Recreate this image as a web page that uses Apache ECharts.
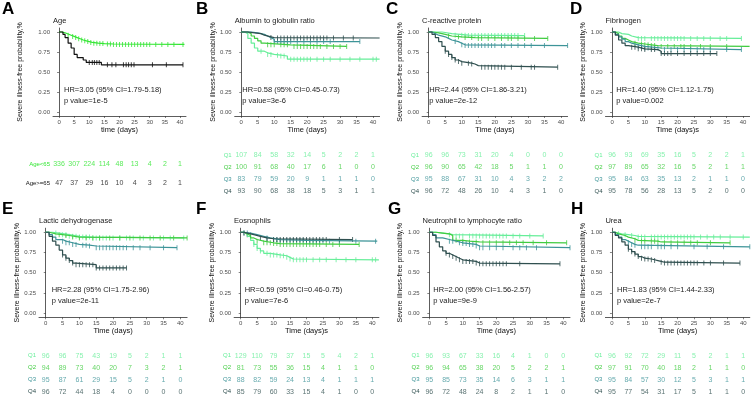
<!DOCTYPE html>
<html>
<head>
<meta charset="utf-8">
<script src="https://cdn.jsdelivr.net/npm/echarts@6/dist/echarts.min.js"></script>
<style>
  html, body { margin: 0; background: #fff; }
  #chart { width: 753px; height: 399px; }
</style>
</head>
<body>
<div id="chart"></div>
<script>
// shared ticks / groups
const timeTicks = [0, 5, 10, 15, 20, 25, 30, 35, 40];
const probTicks = [0, 0.25, 0.5, 0.75, 1];
const quartiles = ["Q1", "Q2", "Q3", "Q4"];
const quartileColors = ["#66ee99", "#40cc40", "#3d9498", "#2f4f4f"];
const ageGroups = ["Age<65", "Age>=65"];
const ageColors = ["#33e633", "#111111"];

// A - Age
const ageSteps = [
  [[0,1],[1,0.99],[2,0.975],[3,0.96],[4,0.945],[5,0.93],[6,0.915],[7,0.9],[8,0.89],[9,0.88],[10,0.87],[11,0.86],[13,0.855],[15,0.85],[18,0.845],[41.5,0.845]],
  [[0,1],[1.3,0.97],[2,0.93],[3,0.86],[4,0.8],[5,0.72],[6,0.68],[8,0.65],[9,0.62],[14,0.59],[41,0.59]]
];
const ageCensor = [
  [3,4.5,5.5,6.5,7.5,8.5,9.5,10.5,11.5,12.5,13.5,14.5,16,17,18,19,20,21,22,23,24,25,26,27,28,29,30,32,34,36,38,41],
  [10,11,11.7,12.5,13.3,16,17.5,18.8,21.3,22.2,23,23.9,24.8,30.9,35.5,41]
];
const ageRisk = [[336,307,224,114,48,13,4,2,1],[47,37,29,16,10,4,3,2,1]];

// B - Albumin to globulin ratio
const agrSteps = [
  [[0,1],[1,0.98],[2,0.92],[3,0.86],[4,0.8],[5,0.76],[7,0.74],[8,0.72],[10,0.71],[12,0.7],[14,0.66],[42,0.66]],
  [[0,1],[2,0.98],[3,0.95],[4,0.92],[5,0.89],[6,0.86],[7,0.84],[15,0.82],[32,0.82]],
  [[0,1],[3,0.99],[5,0.97],[7,0.95],[8,0.93],[9,0.91],[10,0.88],[36,0.88]],
  [[0,1],[2,0.99],[4,0.98],[6,0.96],[7,0.94],[9,0.93],[10,0.925],[42,0.925]]
];
const agrCensor = [
  [6,8,9,11,12,13,15,16,17,18,19,20,21,23,25,27,30,33,36,40,41],
  [8,9,10,12,13,14,16,17,18,19,20,21,22,23,24,26,28,30,32],
  [10,11,12,13,14,15,17,19,21,23,25,27,36],
  [9,11,12,13,14,15,16,17,18,19,20,21,22,23,24,25,26,28,31,34]
];
const agrRisk = [[107,84,58,32,14,5,2,2,1],[100,91,68,40,17,6,1,0,0],[83,79,59,20,9,1,1,1,0],[93,90,68,38,18,5,3,1,1]];

// C - C-reactive protein
const crpSteps = [
  [[0,1],[4,0.98],[7,0.96],[12,0.955],[29,0.955]],
  [[0,1],[1,0.99],[3,0.97],[5,0.95],[7,0.94],[10,0.93],[14,0.92],[36,0.92]],
  [[0,1],[1,0.98],[2,0.96],[3,0.94],[5,0.92],[6,0.9],[7,0.88],[9,0.86],[10,0.84],[11,0.83],[42,0.83]],
  [[0,1],[1,0.97],[2,0.93],[3,0.88],[4,0.82],[5,0.76],[6,0.72],[7,0.68],[8,0.65],[9,0.63],[10,0.61],[13,0.6],[14,0.58],[15,0.56],[39,0.56]]
];
const crpCensor = [
  [8,10,11,12,13,14,15,16,17,18,19,20,21,22,23,24,25,26,27,29],
  [6,9,11,13,15,16,18,20,22,24,25,27,29,32,36],
  [8,10,11,12,13,14,15,16,17,18,19,20,22,23,25,27,29,31,35,42],
  [5,6,7,8,9,10,12,13,16,17,18,19,20,21,22,23,25,28,31,32,39]
];
const crpRisk = [[96,96,73,31,20,4,0,0,0],[96,90,65,42,18,5,1,1,0],[95,88,67,31,10,4,3,2,2],[96,72,48,26,10,4,3,1,0]];

// D - Fibrinogen
const fibSteps = [
  [[0,1],[2,0.98],[3,0.97],[5,0.95],[6,0.93],[8,0.92],[39.5,0.92]],
  [[0,1],[1,0.98],[2,0.95],[3,0.92],[4,0.9],[5,0.88],[6,0.86],[8,0.85],[10,0.84],[12,0.83],[14,0.82],[42,0.82]],
  [[0,1],[1,0.97],[2,0.94],[3,0.91],[4,0.88],[5,0.86],[6,0.84],[8,0.82],[10,0.8],[15,0.78],[39.5,0.78]],
  [[0,1],[1,0.96],[2,0.9],[3,0.86],[4,0.83],[5,0.81],[8,0.79],[10,0.78],[14,0.76],[15,0.73],[32,0.73]]
];
const fibCensor = [
  [8,9,10,12,13,14,15,16,17,18,19,20,21,22,24,26,28,30,33,35,39.5],
  [7,9,10,11,12,13,15,17,19,21,22,24,27,30,35],
  [8,9,10,11,12,13,14,16,18,20,22,24,26,28,30,35,39.5],
  [6,7,8,9,10,12,13,15,16,17,18,20,22,24,26,28,30,32]
];
const fibRisk = [[96,93,69,35,16,5,2,2,1],[97,89,65,32,16,5,2,1,1],[95,84,63,35,13,2,1,1,0],[95,78,56,28,13,5,2,0,0]];

// E - Lactic dehydrogenase
const ldhSteps = [
  [[0,1],[2,0.99],[4,0.97],[7,0.95],[10,0.94],[14,0.93],[41,0.93]],
  [[0,1],[1,0.98],[3,0.97],[5,0.96],[7,0.94],[10,0.93],[42,0.93]],
  [[0,1],[1,0.97],[2,0.94],[3,0.91],[5,0.89],[6,0.87],[8,0.85],[10,0.84],[13,0.83],[15,0.81],[39,0.81]],
  [[0,1],[1,0.95],[2,0.89],[3,0.84],[4,0.78],[5,0.72],[6,0.68],[7,0.65],[8,0.62],[9,0.6],[15,0.56],[24,0.56]]
];
const ldhCensor = [
  [3,5,6,7,8,9,10,11,12,13,14,15,16,17,18,20,22,24,26,29,32,35,37,41],
  [4,6,8,10,12,14,16,19,22,25,28,31,34,38,42],
  [5,6,7,8,9,11,12,13,15,16,17,18,19,20,21,22,23,24,26,28,31,35,39],
  [5,6,7,8,9,10,11,12,13,14,15,16,17,18,19,20,21,22,23,24]
];
const ldhRisk = [[96,96,75,43,19,5,2,1,1],[94,89,73,40,20,7,3,2,1],[95,87,61,29,15,5,2,1,0],[96,72,44,18,4,0,0,0,0]];

// F - Eosinophils
const eosSteps = [
  [[0,1],[1,0.98],[2,0.95],[3,0.9],[4,0.85],[5,0.8],[6,0.77],[7,0.74],[9,0.72],[12,0.71],[14,0.69],[15,0.67],[16,0.66],[42,0.66]],
  [[0,1],[1,0.98],[2,0.96],[3,0.93],[4,0.91],[5,0.89],[7,0.87],[10,0.86],[12,0.85],[36,0.85]],
  [[0,1],[1,0.99],[3,0.97],[5,0.95],[7,0.93],[9,0.91],[12,0.9],[20,0.89],[41.5,0.89]],
  [[0,1],[1,0.99],[2,0.97],[4,0.95],[6,0.93],[8,0.92],[10,0.91],[34,0.91]]
];
const eosCensor = [
  [4,5,6,8,9,10,11,12,13,14,15,16,17,18,19,20,22,24,26,29,32,35,40,41],
  [5,7,8,9,10,11,12,13,14,15,16,17,18,19,20,21,22,23,24,26,28,30,36],
  [1,2,3,8,10,11,12,13,14,15,16,17,18,19,20,21,22,23,24,25,27,30,35,41],
  [1,2,6,8,10,11,12,13,14,15,16,17,18,19,20,21,22,23,24,25,26,30,34]
];
const eosRisk = [[129,110,79,37,15,5,4,2,1],[81,73,55,36,15,4,1,1,0],[88,82,59,24,13,4,1,1,1],[85,79,60,33,15,4,1,0,0]];

// G - Neutrophil to lymphocyte ratio
const nlrSteps = [
  [[0,1],[2,0.99],[4,0.98],[6,0.97],[7,0.955],[34,0.955]],
  [[0,1],[2,0.99],[4,0.98],[6,0.96],[7,0.9],[10,0.89],[12,0.88],[15,0.87],[41,0.87]],
  [[0,1],[1,0.97],[2,0.93],[4,0.91],[6,0.89],[8,0.87],[10,0.86],[12,0.85],[14,0.83],[15,0.81],[42,0.81]],
  [[0,1],[1,0.96],[2,0.88],[3,0.82],[4,0.77],[5,0.74],[6,0.72],[7,0.7],[8,0.68],[9,0.66],[10,0.64],[14,0.62],[15,0.61],[39,0.61]]
];
const nlrCensor = [
  [6,8,9,10,12,13,14,15,16,17,18,19,20,21,22,23,25,27,30,34],
  [8,10,12,14,16,18,20,22,24,26,28,31,35,41],
  [6,7,9,10,11,12,13,14,15,16,18,20,22,25,27,29,32,42],
  [5,6,7,8,9,10,11,12,13,14,15,16,17,18,19,20,21,22,23,27,39]
];
const nlrRisk = [[96,93,67,33,16,4,1,0,0],[96,94,65,38,20,5,2,2,1],[95,85,73,35,14,6,3,1,1],[96,72,48,24,8,2,1,1,0]];

// H - Urea
const ureaSteps = [
  [[0,1],[1,0.98],[3,0.97],[5,0.96],[7,0.95],[8,0.94],[42,0.94]],
  [[0,1],[1,0.98],[2,0.96],[4,0.94],[5,0.92],[7,0.9],[8,0.89],[14,0.88],[15,0.87],[36,0.87]],
  [[0,1],[1,0.97],[2,0.94],[3,0.91],[4,0.89],[5,0.87],[6,0.85],[7,0.84],[8,0.82],[42,0.82]],
  [[0,1],[1,0.96],[2,0.93],[3,0.88],[4,0.84],[5,0.79],[6,0.76],[7,0.73],[8,0.7],[9,0.68],[10,0.67],[12,0.66],[13,0.65],[14,0.64],[15,0.63],[16,0.62],[39,0.62]]
];
const ureaCensor = [
  [2,4,6,8,9,10,12,13,14,15,16,17,18,19,20,21,22,23,24,25,27,29,31,33,36,40],
  [7,9,10,12,13,14,16,18,20,22,24,26,30,36],
  [5,6,7,9,10,11,12,14,15,16,18,20,25,29,34,42],
  [5,6,7,8,9,10,11,12,13,15,16,17,18,19,20,21,22,23,24,25,26,28,30,34,39]
];
const ureaRisk = [[96,92,72,29,11,5,2,1,1],[97,91,70,40,18,2,1,1,0],[95,84,57,30,12,5,3,1,1],[95,77,54,31,17,5,1,1,0]];

const panels = [
  { letter: "A", title: "Age", xName: "time (days)", steps: ageSteps, censor: ageCensor, risk: ageRisk, groups: ageGroups, colors: ageColors, hr: "HR=3.05 (95% CI=1.79-5.18)", p: "p value=1e-5" },
  { letter: "B", title: "Albumin to globulin ratio", xName: "Time (days)", steps: agrSteps, censor: agrCensor, risk: agrRisk, groups: quartiles, colors: quartileColors, hr: "HR=0.58 (95% CI=0.45-0.73)", p: "p value=3e-6" },
  { letter: "C", title: "C-reactive protein", xName: "Time (days)", steps: crpSteps, censor: crpCensor, risk: crpRisk, groups: quartiles, colors: quartileColors, hr: "HR=2.44 (95% CI=1.86-3.21)", p: "p value=2e-12" },
  { letter: "D", title: "Fibrinogen", xName: "Time (days)s", steps: fibSteps, censor: fibCensor, risk: fibRisk, groups: quartiles, colors: quartileColors, hr: "HR=1.40 (95% CI=1.12-1.75)", p: "p value=0.002" },
  { letter: "E", title: "Lactic dehydrogenase", xName: "Time (days)", steps: ldhSteps, censor: ldhCensor, risk: ldhRisk, groups: quartiles, colors: quartileColors, hr: "HR=2.28 (95% CI=1.75-2.96)", p: "p value=2e-11" },
  { letter: "F", title: "Eosnophils", xName: "Time (days)s", steps: eosSteps, censor: eosCensor, risk: eosRisk, groups: quartiles, colors: quartileColors, hr: "HR=0.59 (95% CI=0.46-0.75)", p: "p value=7e-6" },
  { letter: "G", title: "Neutrophil to lymphocyte ratio", xName: "Time (days)", steps: nlrSteps, censor: nlrCensor, risk: nlrRisk, groups: quartiles, colors: quartileColors, hr: "HR=2.00 (95% CI=1.56-2.57)", p: "p value=9e-9" },
  { letter: "H", title: "Urea", xName: "Time (days)", steps: ureaSteps, censor: ureaCensor, risk: ureaRisk, groups: quartiles, colors: quartileColors, hr: "HR=1.83 (95% CI=1.44-2.33)", p: "p value=2e-7" }
];

// pixel layout of each panel
const layouts = [
  { left: 53,    width: 133,   top: 28,    height: 88,   tTop: 154.5, tH: 38, yGap: 29,   lx: 2,   hx: 64 },
  { left: 234.7, width: 144.9, top: 28,    height: 88,   tTop: 149,   tH: 48, yGap: 18,   lx: 196, hx: 242.3 },
  { left: 422.1, width: 145.5, top: 28,    height: 88,   tTop: 149,   tH: 48, yGap: 18,   lx: 386, hx: 429.3 },
  { left: 605.5, width: 144.1, top: 28,    height: 88,   tTop: 149,   tH: 48, yGap: 18,   lx: 570, hx: 616.3 },
  { left: 39,    width: 148.1, top: 228.2, height: 89.1, tTop: 349.7, tH: 48, yGap: 13.5, lx: 2,   hx: 51.7 },
  { left: 234.1, width: 144.8, top: 228.2, height: 89.1, tTop: 349.7, tH: 48, yGap: 18,   lx: 196, hx: 244.7 },
  { left: 422.6, width: 147.4, top: 228.2, height: 89.1, tTop: 349.7, tH: 48, yGap: 18,   lx: 388, hx: 433.3 },
  { left: 605.4, width: 144.4, top: 228.2, height: 89.1, tTop: 349.7, tH: 48, yGap: 18,   lx: 571, hx: 617 }
];

const FONT = "Liberation Sans, Arial, sans-serif";
const AXIS = "#333333";

function survAt(steps, t) {
  let s = steps[0][1];
  for (const [x, y] of steps) {
    if (x <= t) s = y;
  }
  return s;
}

const option = { animation: false, grid: [], xAxis: [], yAxis: [], series: [], graphic: [] };

panels.forEach((p, i) => {
  const L = layouts[i];
  const rowTop = L.top < 100 ? 0 : 200;

  // survival plot
  const gi = option.grid.length;
  option.grid.push({ left: L.left, top: L.top, width: L.width, height: L.height });
  option.xAxis.push({
    type: "value", gridIndex: gi, min: -2, max: 42,
    name: p.xName, nameLocation: "middle", nameGap: 8,
    nameTextStyle: { fontSize: 7.5, color: "#111", fontFamily: FONT },
    axisLine: { onZero: false, lineStyle: { color: AXIS, width: 0.8 } },
    axisTick: { customValues: timeTicks, length: 2, lineStyle: { color: AXIS, width: 0.6 } },
    axisLabel: { customValues: timeTicks, fontSize: 6, margin: 3, color: "#4d4d4d", fontFamily: FONT },
    splitLine: { show: false }
  });
  option.yAxis.push({
    type: "value", gridIndex: gi, min: -0.05, max: 1.05,
    name: "Severe illness-free probability,%", nameLocation: "middle", nameRotate: 90, nameGap: L.yGap,
    nameTextStyle: { fontSize: 7, color: "#111", fontFamily: FONT },
    axisLine: { show: true, lineStyle: { color: AXIS, width: 0.8 } },
    axisTick: { show: true, customValues: probTicks, length: 2, lineStyle: { color: AXIS, width: 0.6 } },
    axisLabel: { customValues: probTicks, fontSize: 6, margin: 3, color: "#4d4d4d", fontFamily: FONT, formatter: v => v.toFixed(2) },
    splitLine: { show: false }
  });
  p.steps.forEach((s, k) => {
    option.series.push({
      type: "line", step: "end", xAxisIndex: gi, yAxisIndex: gi, data: s,
      showSymbol: false, silent: true, lineStyle: { color: p.colors[k], width: 1.2 }
    });
    option.series.push({
      type: "scatter", xAxisIndex: gi, yAxisIndex: gi, silent: true,
      symbol: "rect", symbolSize: [1, 5], itemStyle: { color: p.colors[k] },
      data: p.censor[k].map(t => [t, survAt(s, t)])
    });
  });

  // number-at-risk table
  const ti = option.grid.length;
  option.grid.push({ left: L.left, top: L.tTop, width: L.width, height: L.tH });
  option.xAxis.push({ type: "value", gridIndex: ti, min: -2, max: 42, show: false });
  option.yAxis.push({
    type: "category", gridIndex: ti, data: p.groups, inverse: true,
    axisLine: { show: false }, axisTick: { show: false }, splitLine: { show: false },
    axisLabel: { fontSize: 6, margin: 3, fontFamily: FONT, color: v => p.colors[p.groups.indexOf(v)] }
  });
  p.risk.forEach((row, k) => {
    option.series.push({
      type: "scatter", xAxisIndex: ti, yAxisIndex: ti, silent: true,
      symbolSize: 1, itemStyle: { color: "rgba(0,0,0,0)" },
      data: row.map((n, j) => [timeTicks[j], p.groups[k], n]),
      label: { show: true, position: "inside", formatter: d => d.value[2], color: p.colors[k], fontSize: 7, fontFamily: FONT }
    });
  });

  // letters, titles, HR text
  option.graphic.push(
    { type: "text", left: L.lx, top: rowTop + 1, style: { text: p.letter, fontSize: 17, fontWeight: "bold", fill: "#000", fontFamily: FONT } },
    { type: "text", x: L.left, y: rowTop + 20.5, style: { text: p.title, fontSize: 7.5, fill: "#222", fontFamily: FONT, textVerticalAlign: "middle" } },
    { type: "text", x: L.hx, y: L.top + 62, style: { text: p.hr, fontSize: 7.5, fill: "#222", fontFamily: FONT, textVerticalAlign: "middle" } },
    { type: "text", x: L.hx, y: L.top + 72.5, style: { text: p.p, fontSize: 7.5, fill: "#222", fontFamily: FONT, textVerticalAlign: "middle" } }
  );
});

const chart = echarts.init(document.getElementById("chart"), null, { renderer: "canvas" });
chart.setOption(option);
</script>
</body>
</html>
